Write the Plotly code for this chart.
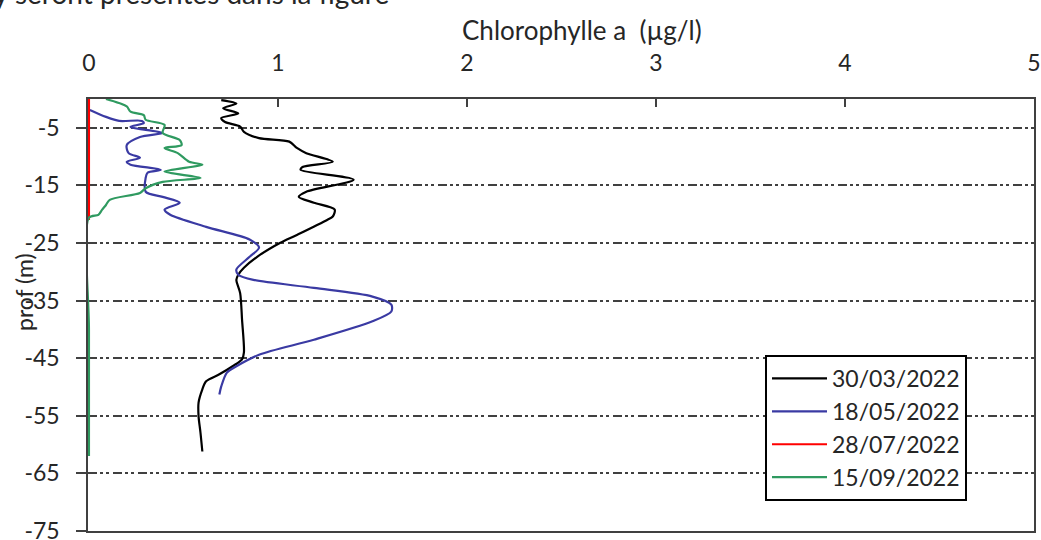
import plotly.graph_objects as go

# ---------------- data ----------------
series_names = ["30/03/2022", "18/05/2022", "28/07/2022", "15/09/2022"]
series_colors = ["#000000", "#3a3aa3", "#ff0000", "#2f9a60"]

chl_0330 = [0.70, 0.78, 0.71, 0.79, 0.70, 0.72, 0.80, 0.82, 0.90, 1.06, 1.10, 1.15, 1.29,
            1.13, 1.12, 1.40, 1.15, 1.11, 1.19, 1.30, 1.29, 1.26, 1.10, 1.01, 0.89, 0.82,
            0.79, 0.78, 0.80, 0.81, 0.82, 0.81, 0.76, 0.69, 0.62, 0.60, 0.58, 0.58, 0.59, 0.60]
dep_0330 = [-0.2, -0.8, -1.6, -2.5, -3.3, -4.0, -4.8, -5.7, -6.8, -7.4, -8.5, -9.4, -10.9,
            -11.8, -12.3, -14.0, -16.1, -17.0, -18.0, -19.2, -20.4, -21.0, -23.6, -25.0, -27.4, -29.3,
            -30.5, -31.4, -33.7, -38.3, -44.0, -45.2, -46.4, -47.8, -49.0, -50.4, -52.7, -55.1, -57.9, -61.2]

chl_0518 = [0.005, 0.09, 0.16, 0.28, 0.29, 0.22, 0.23, 0.39, 0.27, 0.20, 0.21, 0.27, 0.20, 0.22,
            0.38, 0.31, 0.30, 0.30, 0.39, 0.48, 0.40, 0.43, 0.62, 0.85, 0.90, 0.85, 0.78, 0.79,
            0.87, 1.19, 1.50, 1.60, 1.60, 1.50, 1.19, 0.90, 0.78, 0.73, 0.70, 0.69]
dep_0518 = [-1.9, -3.1, -3.8, -3.8, -4.2, -4.8, -5.0, -5.9, -6.6, -8.0, -9.4, -10.2, -10.9, -11.4,
            -12.3, -12.8, -13.7, -16.1, -17.0, -18.0, -19.2, -20.1, -22.2, -24.4, -25.8, -27.4, -29.6, -30.5,
            -31.4, -32.8, -34.3, -35.7, -36.9, -38.6, -41.8, -44.4, -46.4, -47.5, -49.9, -51.3]

chl_0728 = [0.0, 0.0, 0.0]
dep_0728 = [0.0, -10.0, -21.0]

chl_0915 = [0.09, 0.20, 0.22, 0.29, 0.30, 0.40, 0.39, 0.48, 0.49, 0.40, 0.47, 0.53, 0.60,
            0.40, 0.59, 0.39, 0.30, 0.27, 0.11, 0.09, 0.07, 0.05, 0.0, 0.0, 0.0]
dep_0915 = [0.0, -1.3, -2.2, -2.8, -3.6, -4.5, -5.9, -7.1, -8.0, -8.5, -9.4, -10.9, -11.4,
            -12.6, -13.7, -14.4, -15.5, -16.3, -17.5, -18.4, -19.2, -20.1, -20.6, -40.0, -62.0]

y_tickvals = [-5, -15, -25, -35, -45, -55, -65, -75]
y_ticktext = ["-5", "-15", "-25", "-35", "-45", "-55", "-65", "-75"]
x_tickvals = [0, 1, 2, 3, 4, 5]

x_title = "Chlorophylle a  (µg/l)"
y_title = "prof (m)"
top_text = "y seront présentés dans la figure"

# ---------------- figure ----------------
FONT = "Lato"
TXT = "#262626"
AX = "#404040"
xs = [chl_0330, chl_0518, chl_0728, chl_0915]
ys = [dep_0330, dep_0518, dep_0728, dep_0915]

# plot-area edges in page pixels
L, R, T, B = 88, 1034, 99, 531
W, H = R - L, B - T
X_MIN = -0.005  # tiny offset so the 0-value lines are not half clipped by the frame

fig = go.Figure()
for name, col, x, y in zip(series_names, series_colors, xs, ys):
    fig.add_trace(go.Scatter(
        x=x, y=y, name=name, mode="lines",
        line=dict(color=col, width=2.2, shape="spline", smoothing=0.8),
    ))

# invisible trace on an overlay axis that draws the inner half of the crossing ticks
fig.add_trace(go.Scatter(x=[None], y=[None], yaxis="y2", showlegend=False, hoverinfo="skip"))

fig.update_layout(
    width=1041, height=540,
    margin=dict(l=L, r=1041 - R, t=T, b=540 - B, autoexpand=False),
    paper_bgcolor="white", plot_bgcolor="white",
    font=dict(family=FONT, size=23, color=TXT),
    showlegend=True,
    legend=dict(
        x=(765 - L) / W, y=(B - 355) / H, xanchor="left", yanchor="top",
        bordercolor="#000000", borderwidth=2, bgcolor="white",
        font=dict(family=FONT, size=23, color=TXT),
        itemwidth=55, tracegroupgap=0,
    ),
    xaxis=dict(
        side="top", range=[X_MIN, 5], tickvals=x_tickvals,
        showgrid=False, zeroline=False, automargin=False,
        showline=True, linecolor=AX, linewidth=1.5, mirror=True,
        ticks="inside", ticklen=8, tickcolor=AX, tickwidth=1.5,
        ticklabelstandoff=17, layer="below traces",
        tickfont=dict(family=FONT, size=23, color=TXT),
    ),
    yaxis=dict(
        range=[-75, 0], tickvals=y_tickvals, ticktext=y_ticktext,
        showgrid=True, gridcolor=AX, gridwidth=1.5,
        griddash="9px,3px,3px,3px,3px,4px",
        zeroline=False, automargin=False,
        showline=True, linecolor=AX, linewidth=1.5, mirror=True,
        ticks="outside", ticklen=10, tickcolor=AX, tickwidth=1.5,
        ticklabelstandoff=12, ticklabeloverflow="allow", layer="below traces",
        tickfont=dict(family=FONT, size=23, color=TXT),
    ),
    yaxis2=dict(
        overlaying="y", matches="y", range=[-75, 0], tickvals=y_tickvals,
        showgrid=False, zeroline=False, showticklabels=False, automargin=False,
        ticks="inside", ticklen=8, tickcolor=AX, tickwidth=1.5,
        side="left", layer="below traces",
    ),
    annotations=[
        dict(text=x_title, xref="paper", yref="paper",
             x=(582 - L) / W, y=(B - 30) / H, xanchor="center", yanchor="middle",
             showarrow=False, font=dict(family=FONT, size=26, color=TXT)),
        dict(text=y_title, xref="paper", yref="paper", textangle=-90,
             x=(24 - L) / W, y=(B - 292) / H, xanchor="center", yanchor="middle",
             showarrow=False, font=dict(family=FONT, size=23, color=TXT)),
        dict(text=top_text, xref="paper", yref="paper",
             x=(-8 - L) / W, y=(B - 12) / H, xanchor="left", yanchor="bottom",
             showarrow=False, font=dict(family=FONT, size=28, color=TXT)),
    ],
)

fig.write_html("out.html", config={"displayModeBar": False},
               post_script="document.body.style.margin='0';")
